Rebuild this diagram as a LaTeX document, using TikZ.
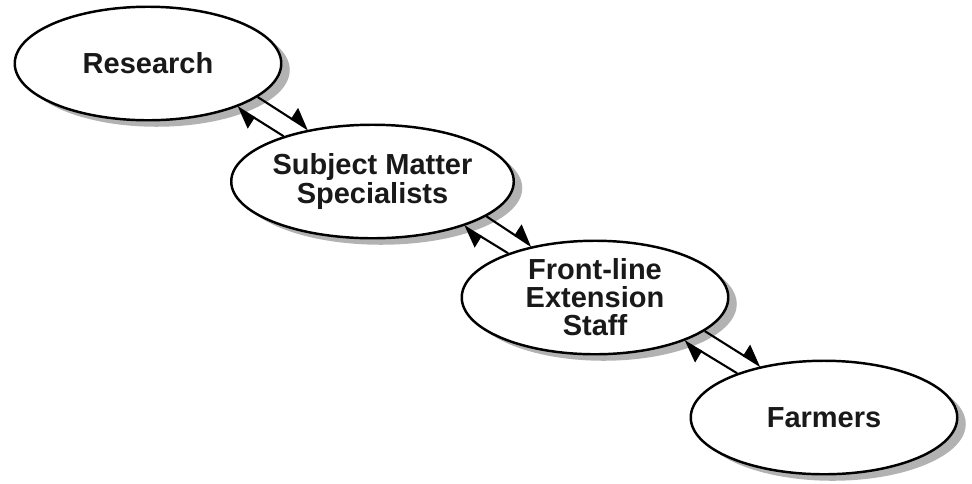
\documentclass[tikz,border=0pt]{standalone}
\usepackage{fontspec}
\setmainfont{Liberation Sans}
\usetikzlibrary{shapes.geometric, shadows, arrows.meta}
\tikzset{
  actor/.style={ellipse, draw, line width=1.4pt, fill=white, minimum width=5.33cm, minimum height=2.27cm, inner sep=0pt, align=center, font=\bfseries\fontsize{16.5}{16}\selectfont, text=black!90, drop shadow={shadow xshift=0.17cm, shadow yshift=-0.13cm, fill=black!30, opacity=1}},
  flow/.style={line width=1.2pt, -{Triangle[harpoon, length=3.8mm, width=5mm]}}
}

\begin{document}
\begin{tikzpicture}
  \useasboundingbox (0,0) rectangle (19.44,-9.66);
  \node[actor] (res) at (2.96,-1.27) {Research};
  \node[actor] (sms) at (7.45,-3.63) {Subject Matter\\Specialists};
  \node[actor] (fls) at (11.9,-5.95) {Front-line\\Extension\\Staff};
  \node[actor] (frm) at (16.48,-8.35) {Farmers};
  % two one-way links between neighbours: down on the right, up on the left
  \foreach \a/\b in {res/sms, sms/fls, fls/frm} {
    \draw[flow] (\a.-17) -- (\b.141);
    \draw[flow] (\b.153) -- (\a.-26);
  }
\end{tikzpicture}
\end{document}
